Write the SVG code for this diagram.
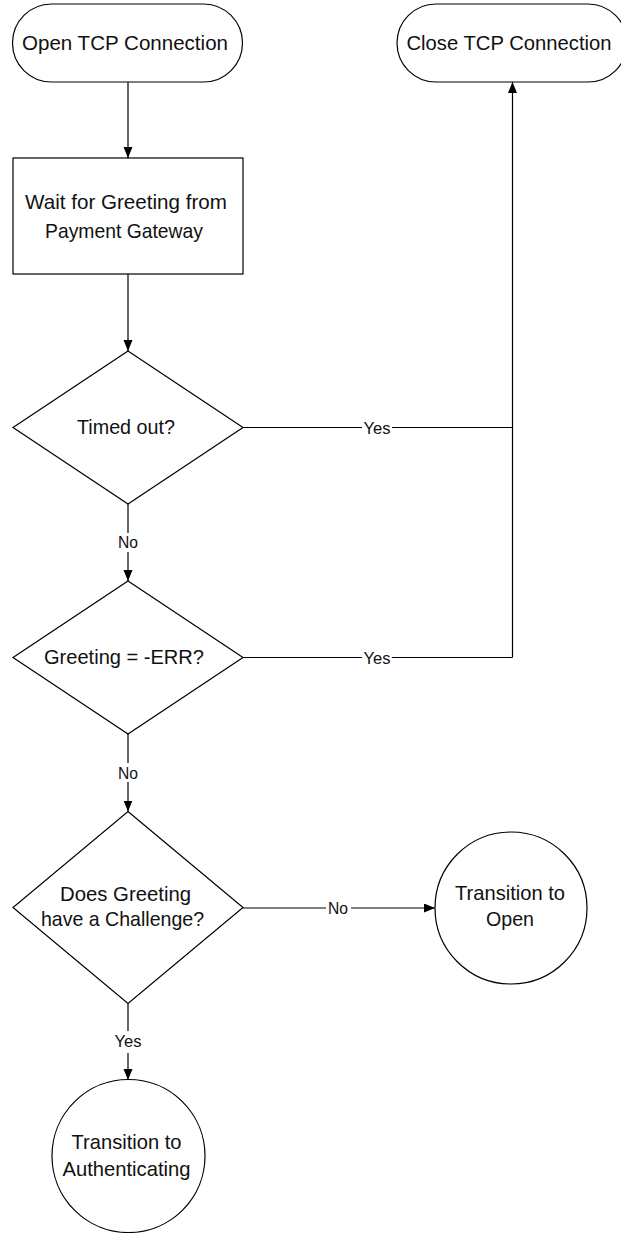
<svg xmlns="http://www.w3.org/2000/svg" width="621" height="1233" viewBox="0 0 621 1233">
  <style>
    .shape { fill: #ffffff; stroke: #000000; stroke-width: 1.2; }
    .wire { fill: none; stroke: #000000; stroke-width: 1.2; }
    .txt { font-family: "Liberation Sans", Arial, sans-serif; font-size: 21px; fill: #111111; text-anchor: middle; }
    .lbl { font-family: "Liberation Sans", Arial, sans-serif; font-size: 17px; fill: #111111; text-anchor: middle; }
  </style>
  <defs>
    <marker id="arrow" markerUnits="userSpaceOnUse" markerWidth="12" markerHeight="10" refX="11" refY="4.5" orient="auto">
      <path d="M0,0 L11,4.5 L0,9 Z" fill="#000000"/>
    </marker>
  </defs>

  <rect width="621" height="1233" fill="#ffffff"/>

  <!-- connectors -->
  <g id="connectors">
    <line class="wire" x1="128" y1="82" x2="128" y2="158" marker-end="url(#arrow)"/>
    <line class="wire" x1="128" y1="274" x2="128" y2="351" marker-end="url(#arrow)"/>

    <!-- Timed out? : Yes -->
    <line class="wire" x1="243" y1="427.5" x2="362" y2="427.5"/>
    <line class="wire" x1="392" y1="427.5" x2="512.5" y2="427.5"/>
    <text class="lbl" x="377" y="433.5" textLength="27" lengthAdjust="spacingAndGlyphs">Yes</text>

    <!-- Greeting = -ERR? : Yes -->
    <line class="wire" x1="243" y1="657.5" x2="362" y2="657.5"/>
    <line class="wire" x1="392" y1="657.5" x2="512.5" y2="657.5"/>
    <text class="lbl" x="377" y="663.5" textLength="27" lengthAdjust="spacingAndGlyphs">Yes</text>

    <!-- shared riser to Close TCP Connection -->
    <line class="wire" x1="512.5" y1="657.5" x2="512.5" y2="82" marker-end="url(#arrow)"/>

    <!-- Timed out? : No -->
    <line class="wire" x1="128" y1="504" x2="128" y2="533"/>
    <line class="wire" x1="128" y1="552" x2="128" y2="581" marker-end="url(#arrow)"/>
    <text class="lbl" x="128" y="548" textLength="20" lengthAdjust="spacingAndGlyphs">No</text>

    <!-- Greeting = -ERR? : No -->
    <line class="wire" x1="128" y1="734" x2="128" y2="763"/>
    <line class="wire" x1="128" y1="782" x2="128" y2="811.5" marker-end="url(#arrow)"/>
    <text class="lbl" x="128" y="779" textLength="20" lengthAdjust="spacingAndGlyphs">No</text>

    <!-- Challenge? : No -->
    <line class="wire" x1="243" y1="908" x2="326" y2="908"/>
    <line class="wire" x1="351" y1="908" x2="435" y2="908" marker-end="url(#arrow)"/>
    <text class="lbl" x="338" y="914" textLength="20" lengthAdjust="spacingAndGlyphs">No</text>

    <!-- Challenge? : Yes -->
    <line class="wire" x1="128" y1="1003.5" x2="128" y2="1031"/>
    <line class="wire" x1="128" y1="1053" x2="128" y2="1080" marker-end="url(#arrow)"/>
    <text class="lbl" x="128" y="1047" textLength="27" lengthAdjust="spacingAndGlyphs">Yes</text>
  </g>

  <g id="open-tcp">
    <rect class="shape" x="12.5" y="4" width="230" height="78" rx="39" ry="39"/>
    <text class="txt" x="125" y="50" textLength="206" lengthAdjust="spacingAndGlyphs">Open TCP Connection</text>
  </g>

  <g id="close-tcp">
    <rect class="shape" x="397" y="4" width="230" height="78" rx="39" ry="39"/>
    <text class="txt" x="509" y="50" textLength="205" lengthAdjust="spacingAndGlyphs">Close TCP Connection</text>
  </g>

  <g id="wait-greeting">
    <rect class="shape" x="13" y="158" width="230" height="116"/>
    <text class="txt" x="126" y="209" textLength="202" lengthAdjust="spacingAndGlyphs">Wait for Greeting from</text>
    <text class="txt" x="124" y="237.5" textLength="158" lengthAdjust="spacingAndGlyphs">Payment Gateway</text>
  </g>

  <g id="timed-out">
    <polygon class="shape" points="128,351 243,427.5 128,504 13,427.5"/>
    <text class="txt" x="126" y="433.5" textLength="98" lengthAdjust="spacingAndGlyphs">Timed out?</text>
  </g>

  <g id="greeting-err">
    <polygon class="shape" points="128,581 243,657.5 128,734 13,657.5"/>
    <text class="txt" x="124" y="664" textLength="160" lengthAdjust="spacingAndGlyphs">Greeting = -ERR?</text>
  </g>

  <g id="has-challenge">
    <polygon class="shape" points="128,811.5 243,907.5 128,1003.5 13,907.5"/>
    <text class="txt" x="125.5" y="900.5" textLength="131" lengthAdjust="spacingAndGlyphs">Does Greeting</text>
    <text class="txt" x="122.5" y="926" textLength="163" lengthAdjust="spacingAndGlyphs">have a Challenge?</text>
  </g>

  <g id="to-open">
    <circle class="shape" cx="511" cy="908" r="76"/>
    <text class="txt" x="510" y="900" textLength="110" lengthAdjust="spacingAndGlyphs">Transition to</text>
    <text class="txt" x="510" y="926" textLength="48" lengthAdjust="spacingAndGlyphs">Open</text>
  </g>

  <g id="to-authenticating">
    <circle class="shape" cx="128.5" cy="1156" r="76.5"/>
    <text class="txt" x="126.5" y="1149" textLength="110" lengthAdjust="spacingAndGlyphs">Transition to</text>
    <text class="txt" x="126.5" y="1176" textLength="128" lengthAdjust="spacingAndGlyphs">Authenticating</text>
  </g>
</svg>
